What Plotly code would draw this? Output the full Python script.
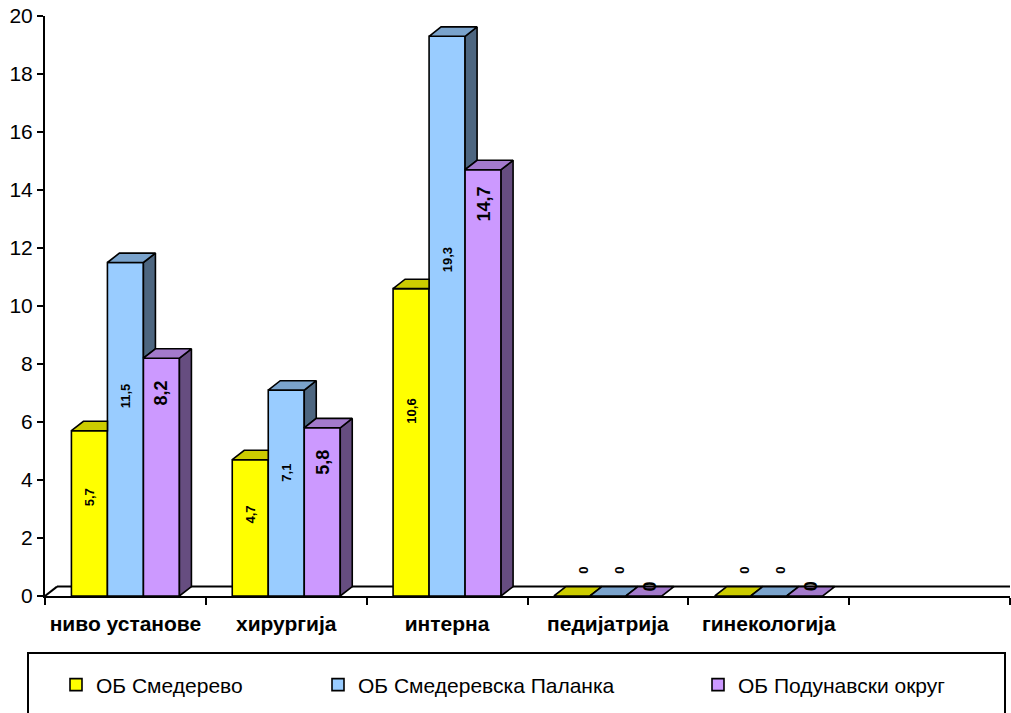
import plotly.graph_objects as go

# ---------------- data ----------------
categories = ["ниво установе", "хирургија", "интерна", "педијатрија", "гинекологија"]
series_names = ["ОБ Смедерево", "ОБ Смедеревска Паланка", "ОБ Подунавски округ"]
smederevo = [5.7, 4.7, 10.6, 0, 0]
palanka = [11.5, 7.1, 19.3, 0, 0]
okrug = [8.2, 5.8, 14.7, 0, 0]
y_tick_values = [0, 2, 4, 6, 8, 10, 12, 14, 16, 18, 20]

series_values = [smederevo, palanka, okrug]

# ---------------- style ----------------
front_colors = ["#FFFF00", "#99CCFF", "#CC99FF"]
top_colors = ["#CCCC00", "#7AA3CC", "#A37ACC"]
side_colors = ["#808000", "#4D6680", "#664D80"]
FONT = "Liberation Sans, Arial, sans-serif"

W, H = 1011, 713
REF_LEFT, REF_TOP, REF_BOTTOM, REF_RIGHT = 45, 16, 596, 1010
ML = REF_LEFT
MT = REF_TOP
MB = H - REF_BOTTOM
MR = W - REF_RIGHT
N_SLOTS = 6                      # five categories + one empty slot
PW = W - ML - MR
PH = H - MT - MB
px_per_slot = PW / N_SLOTS
px_per_unit = PH / 20.0


def paper_x(ref_px):
    return (ref_px - REF_LEFT) / PW


def paper_y(ref_py):
    return (REF_BOTTOM - ref_py) / PH


BAR_W = 36 / px_per_slot         # bar width in category units
DX = 12 / px_per_slot            # 3D depth offset (x)
DY = 9.4 / px_per_unit           # 3D depth offset (y)

xs = list(range(len(categories)))

fig = go.Figure()

# front faces: real bar traces
for i, (name, vals) in enumerate(zip(series_names, series_values)):
    fig.add_trace(go.Bar(
        x=xs, y=vals, name=name,
        width=BAR_W, offset=(i - 1.5) * BAR_W,
        marker=dict(color=front_colors[i], line=dict(color="black", width=1.6)),
        legend=["legend", "legend2", "legend3"][i],
        hoverinfo="x+y+name",
    ))

# 3D tops and sides (computed from the same values)
for i, vals in enumerate(series_values):
    nxt = series_values[i + 1] if i + 1 < len(series_values) else None
    tx, ty, sx, sy = [], [], [], []
    for c, v in zip(xs, vals):
        L = c + (i - 1.5) * BAR_W
        R = L + BAR_W
        vn = nxt[c] if nxt is not None else None
        # top face
        if vn is not None and vn > v:
            pts = [(L, v), (R, v), (R, v + DY), (L + DX, v + DY), (L, v)]
        else:
            pts = [(L, v), (R, v), (R + DX, v + DY), (L + DX, v + DY), (L, v)]
        tx += [p[0] for p in pts] + [None]
        ty += [p[1] for p in pts] + [None]
        # side face
        if v > 0:
            base = 0 if vn is None else vn
            if base <= v:
                pts = [(R, base), (R, v), (R + DX, v + DY), (R + DX, base + DY), (R, base)]
                sx += [p[0] for p in pts] + [None]
                sy += [p[1] for p in pts] + [None]
    fig.add_trace(go.Scatter(x=sx, y=sy, mode="lines", fill="toself",
                             fillcolor=side_colors[i], line=dict(color="black", width=1.6),
                             showlegend=False, hoverinfo="skip"))
    fig.add_trace(go.Scatter(x=tx, y=ty, mode="lines", fill="toself",
                             fillcolor=top_colors[i], line=dict(color="black", width=1.6),
                             showlegend=False, hoverinfo="skip"))

# value labels
annotations = []
for i, vals in enumerate(series_values):
    for c, v in zip(xs, vals):
        cx = c + (i - 1.0) * BAR_W
        txt = "0" if v == 0 else f"{v:.1f}".replace(".", ",")
        if i < 2:
            yy = 0.6 * v if v else 0.9
            xx = cx if v else cx + DX
            size = 13
        else:
            yy = v - 1.2 if v else DY
            xx = cx if v else cx + DX * 0.5
            size = 18
        annotations.append(dict(
            x=xx, y=yy, xref="x", yref="y", text=txt, showarrow=False,
            textangle=-90, font=dict(family=FONT, size=size, color="black", weight="bold"),
        ))

shapes = [
    # floor: depth edge at the left and back edge
    dict(type="line", xref="x", yref="y", x0=-0.5, y0=0, x1=-0.5 + DX, y1=DY,
         line=dict(color="black", width=2), layer="below"),
    dict(type="line", xref="x", yref="y", x0=-0.5 + DX, y0=DY, x1=N_SLOTS - 0.5, y1=DY,
         line=dict(color="black", width=2), layer="below"),
    # legend frame
    dict(type="rect", xref="paper", yref="paper",
         x0=paper_x(28), x1=paper_x(1005), y0=paper_y(653), y1=paper_y(740),
         line=dict(color="black", width=2), fillcolor="rgba(0,0,0,0)"),
]

leg_common = dict(orientation="h", yanchor="middle", y=paper_y(685), xanchor="left",
                  font=dict(family=FONT, size=21, color="black"),
                  bgcolor="rgba(0,0,0,0)", borderwidth=0)

fig.update_layout(
    width=W, height=H,
    margin=dict(l=ML, r=MR, t=MT, b=MB, pad=0, autoexpand=False),
    paper_bgcolor="white", plot_bgcolor="white",
    barmode="overlay",
    showlegend=True,
    legend=dict(x=paper_x(56), **leg_common),
    legend2=dict(x=paper_x(318), **leg_common),
    legend3=dict(x=paper_x(698), **leg_common),
    annotations=annotations,
    shapes=shapes,
    xaxis=dict(
        range=[-0.5, N_SLOTS - 0.5], tickmode="array", tickvals=xs, ticktext=categories,
        ticks="", showgrid=False, zeroline=False, showline=True,
        linecolor="black", linewidth=2, ticklabelstandoff=8, automargin=False,
        tickfont=dict(family=FONT, size=21, color="black", weight="bold"),
        minor=dict(tickmode="array", tickvals=[k - 0.5 for k in range(N_SLOTS + 1)],
                   ticks="outside", ticklen=7, tickwidth=2, tickcolor="black", showgrid=False),
        fixedrange=True,
    ),
    yaxis=dict(
        range=[0, 20], tickmode="array", tickvals=y_tick_values,
        ticks="outside", ticklen=6, tickwidth=2, tickcolor="black",
        showgrid=False, zeroline=False, showline=True, linecolor="black", linewidth=2,
        tickfont=dict(family=FONT, size=21, color="black"),
        ticklabeloverflow="allow", automargin=False,
        fixedrange=True,
    ),
)

fig.write_html("out.html", config={"displayModeBar": False},
               post_script="document.body.style.margin='0px';")
